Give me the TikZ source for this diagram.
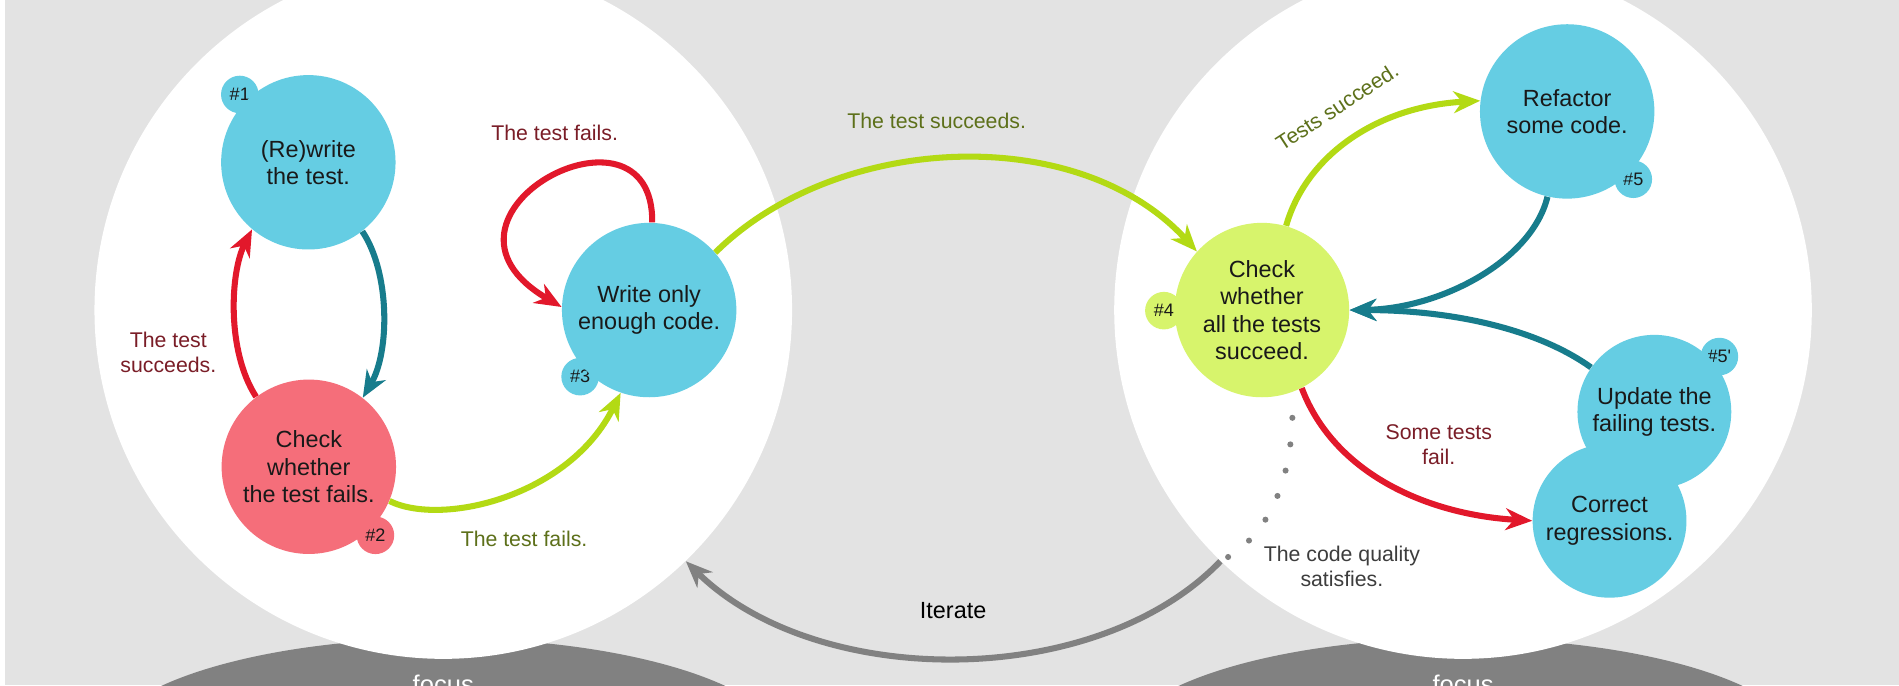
\documentclass[tikz,border=0pt]{standalone}
\usepackage{fontspec}
\setmainfont{Liberation Sans}
\usepackage{xcolor}
\usepackage{tikz}
\usetikzlibrary{arrows.meta}

\definecolor{zonegray}{HTML}{E3E3E3}
\definecolor{focusgray}{HTML}{818181}
\definecolor{taskcyan}{HTML}{65CDE3}
\definecolor{checkpink}{HTML}{F56E7A}
\definecolor{checklime}{HTML}{D7F46C}
\definecolor{goodgreen}{HTML}{B3DA14}
\definecolor{badred}{HTML}{E2182B}
\definecolor{backteal}{HTML}{177C8C}
\definecolor{failtext}{HTML}{7A1D27}
\definecolor{passtext}{HTML}{5D701A}
\definecolor{notetext}{HTML}{3D3D3D}

\begin{document}
\begin{tikzpicture}[
        x=0.2mm, y=-0.2mm,
        zone/.style={circle, fill=white, minimum size=115.2mm, inner sep=0pt},
        task/.style={circle, fill=taskcyan, minimum size=28.8mm, inner sep=0pt, align=center,
                     text=black!90, font=\fontsize{11}{12.8}\selectfont},
        badge/.style={circle, fill=taskcyan, minimum size=6.2mm, inner sep=0pt,
                      text=black!90, font=\fontsize{8.5}{10}\selectfont},
        note/.style={align=center, font=\fontsize{10}{11.7}\selectfont},
        flow/.style={line width=1mm, -{Stealth[length=4.4mm, width=3.6mm, inset=1.4mm]}},
        dotline/.style={focusgray, line width=1mm, line cap=round, dash pattern=on 0pt off 4.4mm, dash phase=0.2mm},
    ]
        \useasboundingbox (0,0) rectangle (1568,566);
        \clip (0,0) rectangle (1568,566);
        \fill[zonegray] (0,0) rectangle (1568,566);
        \fill[white] (0,0) rectangle (4,566);
        \fill[focusgray] (366,620) ellipse [x radius=285, y radius=93];
        \fill[focusgray] (1206,620) ellipse [x radius=285, y radius=93];

        \node[zone] (leftzone) at (366,256) {};
        \node[zone] (rightzone) at (1208,256) {};
        \node[anchor=base, text=white, font=\fontsize{12}{14}\selectfont] (leftfocus) at (366,573) {focus};
        \node[anchor=base, text=white, font=\fontsize{12}{14}\selectfont] (rightfocus) at (1208,573) {focus};

        \node[badge] (n1) at (198,78) {\#1};
        \node[task] (rewrite) at (254.6,134) {(Re)write\\the test.};
        \node[badge, fill=checkpink] (n2) at (310,442) {\#2};
        \node[task, fill=checkpink] (checkfail) at (255,385.4) {Check\\whether\\the test fails.};
        \node[badge] (n3) at (479,311) {\#3};
        \node[task] (code) at (536,256) {Write only\\enough code.};
        \node[badge, fill=checklime] (n4) at (961,256.5) {\#4};
        \node[task, fill=checklime] (checkall) at (1042,256) {Check\\whether\\all the tests\\succeed.};
        \node[badge] (n5) at (1348.6,148) {\#5};
        \node[task] (refactor) at (1294,92) {Refactor\\some code.};
        \node[badge] (n5b) at (1419.7,294.4) {\#5\textquotesingle};
        \node[task, minimum size=25.4mm] (update) at (1366,340) {Update the\\failing tests.};
        \node[task, minimum size=25.4mm] (correct) at (1329,430) {Correct\\regressions.};

        \coordinate (iterstart) at (rightzone.226.6);

        \draw[flow, backteal] (rewrite.-52) .. controls (322,225) and (322,290) .. (checkfail.52);
        \draw[flow, badred] (checkfail.127) .. controls (187,290) and (190,225) .. (rewrite.230);
        \draw[flow, badred] (code.88) .. controls (540,70) and (335,178) .. (code.178);
        \draw[flow, goodgreen] (checkfail.-23) .. controls (365,435) and (470,410) .. (code.251);
        \draw[flow, goodgreen] (code.41) .. controls (690,110) and (890,100) .. (checkall.138);
        \draw[flow, goodgreen] (checkall.74) .. controls (1078,130) and (1135,88) .. (refactor.173);
        \draw[flow, backteal] (refactor.257) .. controls (1265,215) and (1190,255) .. (checkall.0);
        \draw[flow, backteal] (update.145) .. controls (1270,272) and (1200,256) .. (checkall.0);
        \draw[flow, badred] (checkall.-63) .. controls (1102,392) and (1180,425) .. (correct.180);
        \draw[dotline] (checkall.-70) .. controls (1070,380) and (1055,440) .. (iterstart);
        \draw[flow, focusgray] (iterstart) .. controls (905,570) and (675,570) .. (leftzone.-46.2);

        \node[note, text=failtext] (failsucc) at (139,291) {The test\\succeeds.};
        \node[note, text=failtext] (loopfail) at (458,110) {The test fails.};
        \node[note, text=passtext] (gofail) at (432.7,445) {The test fails.};
        \node[note, text=passtext] (gosucc) at (773.4,100) {The test succeeds.};
        \node[note, text=passtext, rotate=33, inner sep=1pt] (allpass) at (1104,88) {Tests succeed.};
        \node[note, text=failtext] (somefail) at (1188,367) {Some tests\\fail.};
        \node[note, text=notetext] (quality) at (1108,468) {The code quality\\satisfies.};
        \node[font=\fontsize{11}{13}\selectfont] (iterate) at (787,504) {Iterate};
    \end{tikzpicture}
\end{document}
